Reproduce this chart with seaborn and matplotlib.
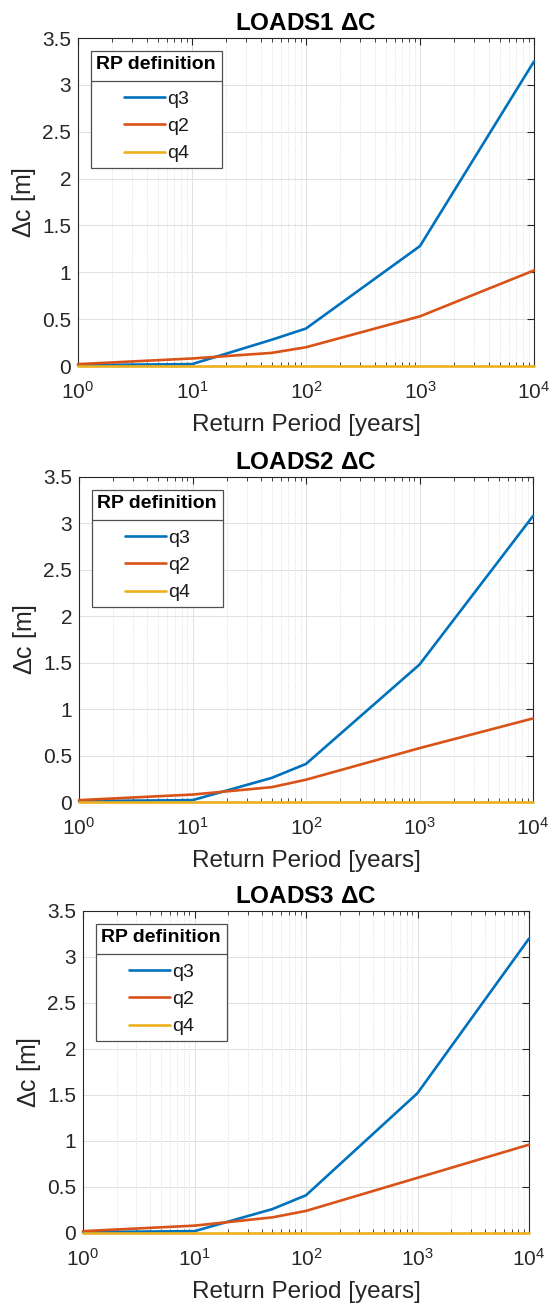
import numpy as np
import pandas as pd
import matplotlib
matplotlib.use("Agg")
import matplotlib.pyplot as plt
import seaborn as sns
from matplotlib.ticker import LogLocator, NullFormatter, MultipleLocator, FuncFormatter
from matplotlib.lines import Line2D
from matplotlib.legend_handler import HandlerLine2D

# Return periods [years]
return_period = [1, 10, 50, 100, 1000, 10000]

# Crest-level change per RP definition [m]
loads1_q3 = [0.01, 0.02, 0.28, 0.40, 1.28, 3.25]
loads1_q2 = [0.02, 0.08, 0.14, 0.20, 0.53, 1.02]
loads1_q4 = [0.0, 0.0, 0.0, 0.0, 0.0, 0.0]

loads2_q3 = [0.01, 0.02, 0.26, 0.41, 1.48, 3.08]
loads2_q2 = [0.02, 0.08, 0.16, 0.24, 0.58, 0.90]
loads2_q4 = [0.0, 0.0, 0.0, 0.0, 0.0, 0.0]

loads3_q3 = [0.01, 0.02, 0.26, 0.41, 1.52, 3.20]
loads3_q2 = [0.02, 0.08, 0.17, 0.24, 0.60, 0.96]
loads3_q4 = [0.0, 0.0, 0.0, 0.0, 0.0, 0.0]

panel_titles = ["LOADS1 $\\Delta$C", "LOADS2 $\\Delta$C", "LOADS3 $\\Delta$C"]
series_names = ["q3", "q2", "q4"]
series_colors = ["#0072BD", "#D95319", "#EDB120"]

panels = [
    (loads1_q3, loads1_q2, loads1_q4),
    (loads2_q3, loads2_q2, loads2_q4),
    (loads3_q3, loads3_q2, loads3_q4),
]

sns.set_theme(style="white")
plt.rcParams["font.family"] = ["Liberation Sans", "DejaVu Sans"]
plt.rcParams["mathtext.fontset"] = "custom"
plt.rcParams["mathtext.rm"] = "Liberation Sans"
plt.rcParams["mathtext.it"] = "Liberation Sans"
plt.rcParams["mathtext.bf"] = "Liberation Sans:bold"
plt.rcParams["mathtext.default"] = "regular"

axis_gray = "#262626"
legend_edge = "#505050"


class OffsetLineHandler(HandlerLine2D):
    """Legend line drawn only in the right part of the handle box."""

    def get_xdata(self, legend, xdescent, ydescent, width, height, fontsize):
        x0 = -xdescent + width * 0.40
        x1 = -xdescent + width
        xs = np.array([x0, x1])
        return xs, xs


fig = plt.figure(figsize=(5.52, 13.06), dpi=100)
H, W = 1306.0, 552.0
# axes boxes in pixels: left, right, top, bottom
boxes = [(78, 534, 38, 366), (79, 533, 477, 802), (83, 529, 911, 1233)]

legends = []
for box, title, series in zip(boxes, panel_titles, panels):
    l, r, t, b = box
    ax = fig.add_axes([l / W, 1 - b / H, (r - l) / W, (b - t) / H])
    frames = []
    for name, vals in zip(series_names, series):
        frames.append(pd.DataFrame({"rp": return_period, "dc": vals, "def": name}))
    df = pd.concat(frames, ignore_index=True)
    sns.lineplot(data=df, x="rp", y="dc", hue="def", hue_order=series_names,
                 palette=series_colors, linewidth=1.9, ax=ax, legend=False)
    for ln in ax.lines:
        ln.set_clip_on(False)
        ln.set_zorder(3)
    ax.set_xscale("log")
    ax.set_xlim(1, 1e4)
    ax.set_ylim(0, 3.5)
    ax.yaxis.set_major_locator(MultipleLocator(0.5))
    ax.yaxis.set_major_formatter(FuncFormatter(lambda v, p: f"{v:g}"))
    ax.xaxis.set_major_locator(LogLocator(base=10, numticks=10))
    ax.xaxis.set_minor_locator(LogLocator(base=10, subs=np.arange(2, 10), numticks=20))
    ax.xaxis.set_minor_formatter(NullFormatter())

    ax.grid(True, which="major", color="#e0e0e0", linewidth=0.7, linestyle="-")
    ax.grid(True, which="minor", axis="x", color="#d8d8d8", linewidth=0.6,
            linestyle=(0, (1, 1.5)))
    ax.set_axisbelow(True)

    for sp in ax.spines.values():
        sp.set_color(axis_gray)
        sp.set_linewidth(0.8)
    ax.tick_params(axis="both", which="major", direction="in", length=5,
                   width=0.8, color=axis_gray, labelcolor=axis_gray,
                   labelsize=15, top=True, right=True)
    ax.tick_params(axis="x", which="minor", direction="in", length=3,
                   width=0.6, color=axis_gray, top=True, bottom=True)
    ax.tick_params(axis="x", which="major", pad=11)
    ax.tick_params(axis="y", which="major", pad=5)

    ax.set_title(title, fontsize=17.5, fontweight="bold", color="black", pad=6)
    ax.set_xlabel("Return Period [years]", fontsize=17.5, color=axis_gray, labelpad=8)
    ax.set_ylabel("$\\Delta$c [m]", fontsize=18, color=axis_gray, labelpad=3)

    handles = [Line2D([0], [0], color=c, lw=1.9) for c in series_colors]
    leg = ax.legend(handles, series_names, title="RP definition", loc="upper left",
                    bbox_to_anchor=(13 / (r - l), 1 - 13 / (b - t)), fontsize=14,
                    title_fontproperties={"weight": "bold", "size": 14},
                    frameon=True, fancybox=False, edgecolor=legend_edge,
                    framealpha=1.0, handlelength=3.5, handletextpad=0.15,
                    labelspacing=0.5, borderpad=0.28, borderaxespad=0.0,
                    handler_map={Line2D: OffsetLineHandler()})
    leg._legend_box.align = "left"
    leg._legend_box.sep = 12
    leg.get_title().set_color("black")
    for txt in leg.get_texts():
        txt.set_color("#1a1a1a")
    leg.get_frame().set_linewidth(0.9)
    legends.append(leg)

# separator line under each legend title
fig.canvas.draw()
inv = fig.transFigure.inverted()
for leg in legends:
    lb = leg.get_window_extent()
    tb = leg.get_title().get_window_extent()
    first = leg.get_texts()[0].get_window_extent()
    y = 0.5 * (tb.y0 + first.y1) + 1
    (x0, yf), = inv.transform([(lb.x0, y)])
    (x1, _), = inv.transform([(lb.x1, y)])
    fig.add_artist(Line2D([x0, x1], [yf, yf], color=legend_edge, lw=0.9,
                          transform=fig.transFigure))

fig.savefig("out.png", dpi=100, facecolor="white")
